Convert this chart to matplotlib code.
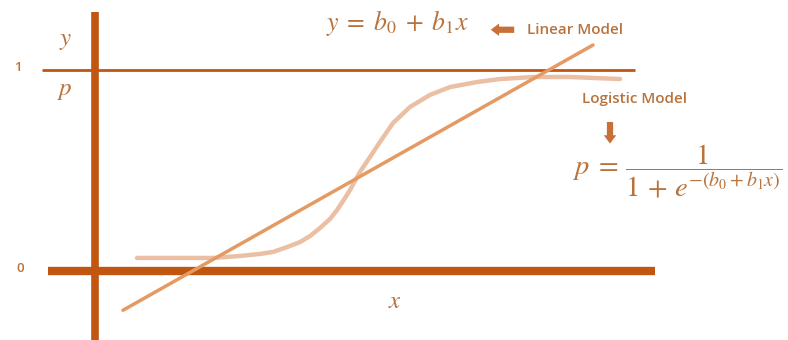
import matplotlib
matplotlib.use("Agg")
import matplotlib.pyplot as plt

# logistic curve (x in picture units, p in probability)
logit_x = [137, 180, 213, 240, 260, 273, 287, 300, 310, 320, 330, 337, 345, 350,
           360, 370, 380, 393, 410, 430, 450, 477, 500, 533, 570, 620]
logit_p = [0.065, 0.065, 0.065, 0.075, 0.085, 0.095, 0.119, 0.144, 0.174, 0.214,
           0.259, 0.303, 0.363, 0.403, 0.493, 0.567, 0.642, 0.736, 0.816, 0.876,
           0.915, 0.940, 0.955, 0.965, 0.965, 0.955]

# linear model, two end points
lin_x = [123, 593]
lin_y = [-0.195, 1.124]

axis_col = "#C0560F"
text_col = "#B8733D"
arrow_col = "#C87038"

plt.rcParams['mathtext.fontset'] = 'stix'

fig = plt.figure(figsize=(7.88, 3.4), dpi=100)
ax = fig.add_axes([0, 0, 1, 1])
ax.set_xlim(0, 788)
ax.set_ylim(-0.343, 1.348)
ax.axis('off')

# axes of the diagram
ax.plot([95, 95], [-0.343, 1.289], color=axis_col, lw=5.5, solid_capstyle='butt', zorder=3)
ax.plot([48, 655], [0, 0], color=axis_col, lw=6, solid_capstyle='butt', zorder=3)
ax.plot([42, 635], [1, 1], color=axis_col, lw=2, solid_capstyle='butt', zorder=3)

# curves
ax.plot(logit_x, logit_p, color="#E8B494", lw=3.2, alpha=0.85,
        solid_capstyle='round', solid_joinstyle='round', zorder=4)
ax.plot(lin_x, lin_y, color="#E49A62", lw=2.5, solid_capstyle='round', zorder=5)

lab = dict(color=text_col, family='Open Sans', fontweight='semibold', fontsize=11)
ax.text(18, 1.01, "1", ha='center', va='center', **dict(lab, fontsize=9.5))
ax.text(20, 0.015, "0", ha='center', va='center', **dict(lab, fontsize=9.5))
ax.text(66, 1.15, "$y$", ha='center', va='center', color=text_col, fontsize=18)
ax.text(65, 0.9, "$p$", ha='center', va='center', color=text_col, fontsize=18)
ax.text(395, -0.15, "$x$", ha='center', va='center', color=text_col, fontsize=18)

ax.text(326, 1.235, r"$y\; =\; b_0\; +\; b_1x$", ha='left', va='center',
        color=text_col, fontsize=18.5)
ax.annotate("", xy=(488, 1.2), xytext=(517, 1.2),
            arrowprops=dict(arrowstyle="simple,head_width=0.9,head_length=0.6,tail_width=0.45",
                            color=arrow_col, lw=0))
ax.text(527, 1.2, "Linear Model", ha='left', va='center', **lab)

ax.text(582, 0.855, "Logistic Model", ha='left', va='center', **lab)
ax.annotate("", xy=(610, 0.62), xytext=(610, 0.755),
            arrowprops=dict(arrowstyle="simple,head_width=0.9,head_length=0.6,tail_width=0.45",
                            color=arrow_col, lw=0))
ax.text(572, 0.495, r"$p\; =\, \dfrac{1}{1\, +\, e^{-(b_0 + b_1x)}}$", ha='left', va='center',
        color=text_col, fontsize=20.5)

fig.savefig("out.png", dpi=100, facecolor='white')
